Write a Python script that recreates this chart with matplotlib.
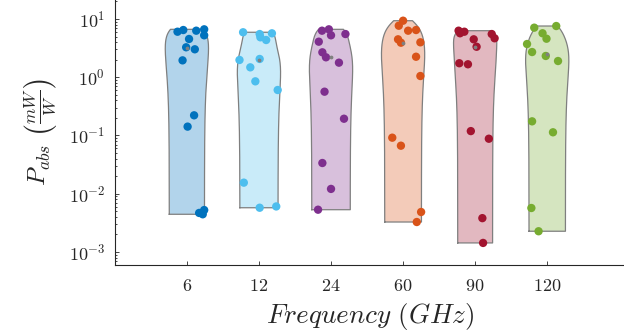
import numpy as np
import matplotlib
matplotlib.use("Agg")
import matplotlib.pyplot as plt

# frequency groups and colours (MATLAB default order)
freqs = ['6', '12', '24', '60', '90', '120']
colors = ['#0072BD', '#4DBEEE', '#7E2F8E', '#D95319', '#A2142F', '#77AC30']

# absorbed power per group (mW/W)
p_6 = [6.05, 6.47, 6.3, 6.65, 5.25, 4.54, 3.27, 3.02, 1.95, 0.222, 0.142,
       0.00468, 0.00525, 0.00444]
p_12 = [5.92, 5.52, 4.85, 4.36, 5.68, 2.06, 1.98, 1.48, 0.851, 0.604,
        0.0155, 0.00575, 0.00605]
p_24 = [6.3, 6.65, 5.25, 5.52, 4.08, 2.68, 2.2, 1.78, 0.565, 0.194,
        0.0337, 0.0121, 0.00532]
p_60 = [9.35, 7.67, 6.3, 6.47, 4.48, 3.92, 3.98, 2.25, 1.05, 0.0917,
        0.0668, 0.00486, 0.00327]
p_90 = [6.3, 5.69, 6.05, 4.48, 3.34, 5.52, 4.67, 1.74, 1.67, 0.119,
        0.088, 0.00381, 0.00143]
p_120 = [7.1, 7.58, 5.69, 4.59, 3.72, 2.71, 2.32, 1.9, 0.175, 0.1135,
         0.00569, 0.00227]

# horizontal scatter jitter of each point (x units)
j_6 = [-0.13, -0.05, 0.13, 0.24, 0.24, 0.03, -0.01, 0.11, -0.06, 0.10,
       0.01, 0.17, 0.24, 0.22]
j_12 = [-0.22, 0.01, 0.02, 0.10, 0.18, 0.01, -0.27, -0.12, -0.05, 0.26,
        -0.21, 0.01, 0.24]
j_24 = [-0.125, -0.03, 0.0, 0.20, -0.17, -0.12, -0.07, 0.11, -0.09, 0.18,
        -0.12, 0.0, -0.18]
j_60 = [0.0, -0.06, 0.07, 0.18, -0.07, -0.03, 0.24, 0.18, 0.24, -0.15,
        -0.03, 0.25, 0.19]
j_90 = [-0.23, -0.21, -0.15, -0.02, 0.02, 0.23, 0.27, -0.22, -0.10, -0.06,
        0.19, 0.10, 0.11]
j_120 = [-0.18, 0.125, -0.065, -0.01, -0.28, -0.21, -0.02, 0.15, -0.21,
         0.08, -0.22, -0.12]

data = [p_6, p_12, p_24, p_60, p_90, p_120]
jitter = [j_6, j_12, j_24, j_60, j_90, j_120]


def kde_outline(vals, width=0.3):
    """Gaussian KDE in linear space (MATLAB ksdensity style bandwidth)."""
    x = np.asarray(vals, dtype=float)
    n = len(x)
    sig = np.median(np.abs(x - np.median(x))) / 0.6745
    if sig <= 0:
        sig = x.max() - x.min()
    bw = sig * (4.0 / (3.0 * n)) ** 0.2
    grid = np.logspace(np.log10(x.min()), np.log10(x.max()), 300)
    dens = np.exp(-0.5 * ((grid[:, None] - x[None, :]) / bw) ** 2).sum(axis=1)
    return grid, dens / dens.max() * width


plt.rcParams['mathtext.fontset'] = 'cm'
plt.rcParams['font.family'] = 'serif'
plt.rcParams['font.serif'] = ['DejaVu Serif']

fig = plt.figure(figsize=(6.24, 3.35), dpi=100)
ax = fig.add_axes([0.184, 0.209, 0.82, 0.791])

for i, (vals, jit, col) in enumerate(zip(data, jitter, colors)):
    pos = i + 1
    grid, half = kde_outline(vals)
    ax.fill_betweenx(grid, pos - half, pos + half, facecolor=col, alpha=0.3,
                     edgecolor='none', zorder=1)
    xs = np.concatenate([pos - half, (pos + half)[::-1], [pos - half[0]]])
    ys = np.concatenate([grid, grid[::-1], [grid[0]]])
    ax.plot(xs, ys, color='#7f7f7f', lw=0.9, zorder=2)
    ax.scatter(pos + np.asarray(jit), vals, s=36, color=col, edgecolors='none',
               zorder=3)
    ax.scatter([pos], [np.median(vals)], s=3, color='#808080', zorder=4)

ax.set_yscale('log')
ax.set_ylim(5.98e-4, 21.2)
ax.set_xlim(0, 7.1)
ax.set_xticks(range(1, len(freqs) + 1))
ax.set_xticklabels([rf'$\mathrm{{{f}}}$' for f in freqs], fontsize=13)
ax.set_yticks([1e-3, 1e-2, 1e-1, 1, 10])
ax.set_yticklabels([r'$\mathbf{10^{-3}}$', r'$\mathbf{10^{-2}}$',
                    r'$\mathbf{10^{-1}}$', r'$\mathbf{10^{0}}$',
                    r'$\mathbf{10^{1}}$'], fontsize=13)
ax.tick_params(direction='in', length=3, width=0.6, colors='#262626',
               labelcolor='#262626')
ax.tick_params(axis='x', pad=9)
ax.tick_params(axis='y', pad=7)
ax.tick_params(which='minor', direction='in', length=1.5, width=0.5)
for side in ['top', 'right']:
    ax.spines[side].set_visible(False)
for side in ['left', 'bottom']:
    ax.spines[side].set_linewidth(0.8)
    ax.spines[side].set_color('#262626')

ax.set_xlabel(r'$Frequency\ (GHz)$', fontsize=19.5, labelpad=4, color='#262626')
ax.set_ylabel(r'$P_{abs}\ \left(\frac{mW}{W}\right)$', fontsize=18,
              labelpad=6, color='#262626')

fig.savefig('out.png', dpi=100)
